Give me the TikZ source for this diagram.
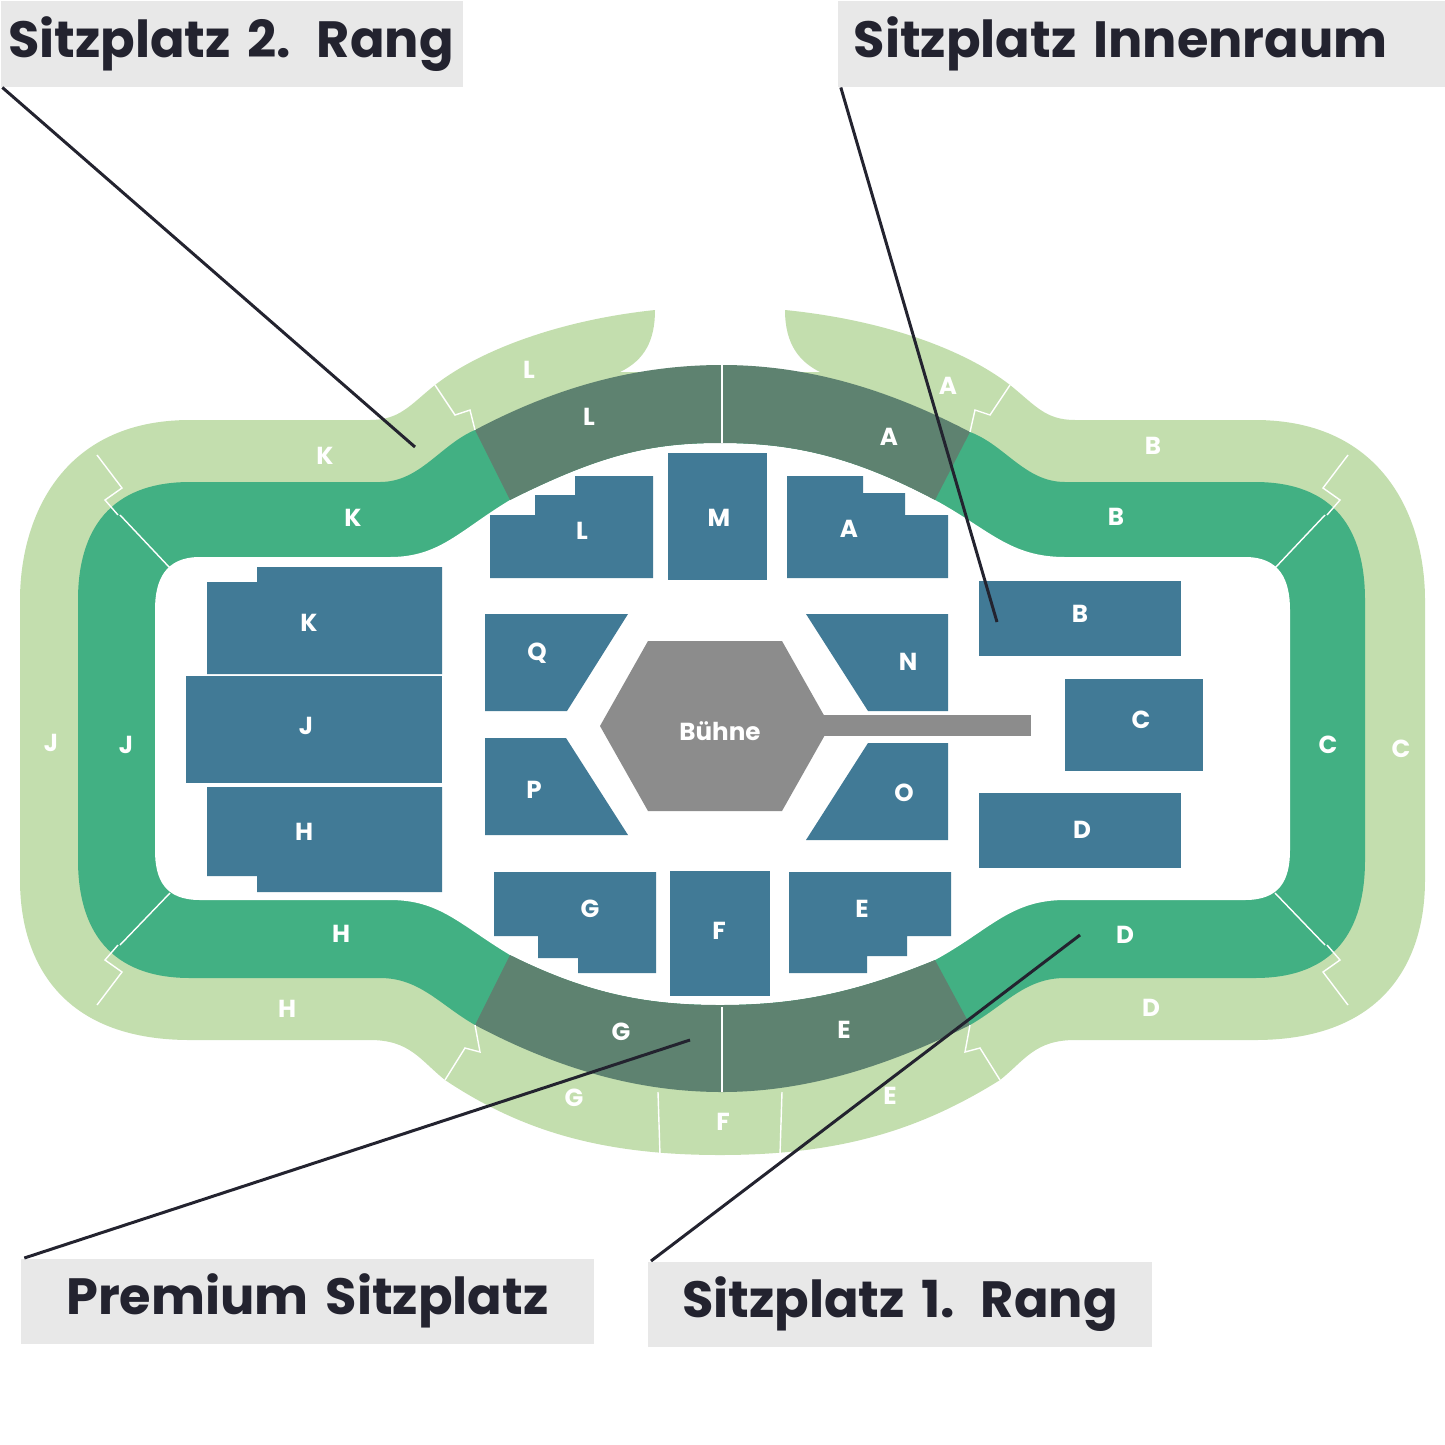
\documentclass[tikz,border=0pt]{standalone}
\usepackage{fontspec}
\setmainfont{Poppins}
\definecolor{rangtwo}{RGB}{195,222,174}
\definecolor{rangone}{RGB}{66,176,131}
\definecolor{premium}{RGB}{94,130,112}
\definecolor{inner}{RGB}{65,122,150}
\definecolor{stage}{RGB}{140,140,140}
\definecolor{callbox}{RGB}{232,232,232}
\definecolor{ink}{RGB}{35,35,47}
\tikzset{block/.style={fill=inner}}
\tikzset{sep/.style={draw=white,line width=0.4pt}}
\tikzset{seat/.style={text=white,font=\fontsize{7}{8}\selectfont\bfseries}}
\tikzset{callout/.style={fill=callbox,text=ink,anchor=north west,inner sep=0pt,font=\fontsize{14.5}{16}\selectfont\bfseries}}
\tikzset{leader/.style={draw=ink,line width=0.85pt}}

\begin{document}
\begin{tikzpicture}[x=0.01cm,y=-0.01cm]
  \useasboundingbox (0,0) rectangle (1445,1445);
  %% 2. Rang
  \fill[rangtwo] (655,310) .. controls (560,320) and (480,350) .. (435,385) .. controls (410,405) and (400,420) .. (370,420) -- (190,420) .. controls (60,420) and (20,520) .. (20,600) -- (20,880) .. controls (20,960) and (60,1040) .. (190,1040) -- (370,1040) .. controls (410,1040) and (420,1060) .. (445,1080) .. controls (520,1130) and (600,1155) .. (720,1155) .. controls (840,1155) and (920,1130) .. (1000,1080) .. controls (1025,1060) and (1035,1040) .. (1075,1040) -- (1255,1040) .. controls (1385,1040) and (1425,960) .. (1425,880) -- (1425,600) .. controls (1425,520) and (1385,420) .. (1255,420) -- (1075,420) .. controls (1045,420) and (1035,405) .. (1010,385) .. controls (965,350) and (885,320) .. (785,310) .. controls (785,345) and (800,362) .. (820,372) -- (620,372) .. controls (645,360) and (655,340) .. (655,310) -- cycle;
  %% 1. Rang
  \fill[rangone] (475,430) .. controls (440,445) and (420,482) .. (380,482) -- (190,482) .. controls (110,482) and (78,530) .. (78,600) -- (78,860) .. controls (78,930) and (110,978) .. (190,978) -- (380,978) .. controls (420,978) and (440,1005) .. (475,1025) -- (970,1025) .. controls (1005,1005) and (1025,978) .. (1065,978) -- (1255,978) .. controls (1335,978) and (1365,930) .. (1365,860) -- (1365,600) .. controls (1365,530) and (1335,482) .. (1255,482) -- (1065,482) .. controls (1025,482) and (1005,445) .. (970,432) -- cycle;
  %% Innenraum
  \fill[white] (510,500) .. controls (600,455) and (650,443) .. (720,443) .. controls (790,443) and (850,455) .. (935,500) .. controls (990,530) and (1010,557) .. (1065,557) -- (1245,557) .. controls (1280,557) and (1290,580) .. (1290,610) -- (1290,850) .. controls (1290,880) and (1280,900) .. (1245,900) -- (1065,900) .. controls (1010,900) and (990,930) .. (935,960) .. controls (850,995) and (790,1005) .. (720,1005) .. controls (650,1005) and (590,995) .. (510,955) .. controls (460,925) and (440,900) .. (390,900) -- (200,900) .. controls (165,900) and (155,880) .. (155,850) -- (155,610) .. controls (155,580) and (165,557) .. (200,557) -- (390,557) .. controls (440,557) and (460,530) .. (510,500) -- cycle;
  %% Premium
  \fill[premium] (475,430) .. controls (560,385) and (640,365) .. (722,365) .. controls (800,365) and (880,385) .. (970,432) -- (935,500) .. controls (850,455) and (790,443) .. (720,443) .. controls (650,443) and (600,455) .. (510,500) -- cycle;
  \fill[premium] (475,1025) .. controls (560,1070) and (640,1092) .. (722,1092) .. controls (800,1092) and (880,1070) .. (970,1025) -- (935,960) .. controls (850,995) and (790,1005) .. (720,1005) .. controls (650,1005) and (590,995) .. (510,955) -- cycle;
  %% Trennlinien
  \draw[sep] (722,365) -- (722,443);
  \draw[sep] (722,1007) -- (722,1092);
  \draw[sep] (120,515) -- (170,568);
  \draw[sep] (120,945) -- (170,893);
  \draw[sep] (1325,515) -- (1275,568);
  \draw[sep] (1325,945) -- (1275,893);
  \draw[sep] (97,455) -- (122,488) -- (105,500) -- (118,515);
  \draw[sep] (97,1005) -- (122,972) -- (105,960) -- (118,945);
  \draw[sep] (1348,455) -- (1323,488) -- (1340,500) -- (1327,515);
  \draw[sep] (1348,1005) -- (1323,972) -- (1340,960) -- (1327,945);
  \draw[sep] (435,385) -- (455,415) -- (470,410) -- (475,430);
  \draw[sep] (1010,385) -- (990,415) -- (975,410) -- (970,432);
  \draw[sep] (445,1080) -- (465,1048) -- (480,1052) -- (475,1025);
  \draw[sep] (1000,1080) -- (980,1048) -- (965,1052) -- (970,1025);
  \draw[sep] (658,1092) -- (660,1155);
  \draw[sep] (782,1092) -- (780,1155);
  %% Bloecke
  \fill[block] (490,515) -- (535,515) -- (535,495) -- (575,495) -- (575,476) -- (653,476) -- (653,578) -- (490,578) -- cycle;
  \fill[block] (668,453) rectangle (767,580);
  \fill[block] (787,476) -- (863,476) -- (863,493) -- (905,493) -- (905,515) -- (948,515) -- (948,578) -- (787,578) -- cycle;
  \fill[block] (207,582) -- (257,582) -- (257,567) -- (442,567) -- (442,674) -- (207,674) -- cycle;
  \fill[block] (186,676) rectangle (442,783);
  \fill[block] (207,787) -- (442,787) -- (442,892) -- (257,892) -- (257,876) -- (207,876) -- cycle;
  \fill[block] (485,614) -- (628,614) -- (567,711) -- (485,711) -- cycle;
  \fill[block] (485,738) -- (566,738) -- (628,835) -- (485,835) -- cycle;
  \fill[block] (806,614) -- (948,614) -- (948,711) -- (868,711) -- cycle;
  \fill[block] (868,743) -- (948,743) -- (948,840) -- (806,840) -- cycle;
  \fill[block] (979,581) rectangle (1181,656);
  \fill[block] (1065,679) rectangle (1203,771);
  \fill[block] (979,793) rectangle (1181,868);
  \fill[block] (494,872) -- (656,872) -- (656,973) -- (578,973) -- (578,958) -- (538,958) -- (538,936) -- (494,936) -- cycle;
  \fill[block] (670,871) rectangle (770,996);
  \fill[block] (789,872) -- (951,872) -- (951,936) -- (907,936) -- (907,956) -- (867,956) -- (867,973) -- (789,973) -- cycle;
  %% Buehne
  \fill[stage] (820,715) rectangle (1031,736);
  \fill[stage] (600,726) -- (648,641) -- (782,641) -- (830,726) -- (782,811) -- (648,811) -- cycle;
  \node[seat] (stage) at (720,731) {Bühne};
  %% Beschriftung Bloecke
  \node[seat] (iL) at (582,531) {L};
  \node[seat] (iM) at (719,518) {M};
  \node[seat] (iA) at (849,529) {A};
  \node[seat] (iK) at (309,623) {K};
  \node[seat] (iJ) at (306,726) {J};
  \node[seat] (iH) at (304,832) {H};
  \node[seat] (iQ) at (537,653) {Q};
  \node[seat] (iP) at (534,790) {P};
  \node[seat] (iN) at (908,662) {N};
  \node[seat] (iO) at (904,793) {O};
  \node[seat] (iB) at (1080,614) {B};
  \node[seat] (iC) at (1141,720) {C};
  \node[seat] (iD) at (1082,830) {D};
  \node[seat] (iG) at (590,909) {G};
  \node[seat] (iF) at (719,931) {F};
  \node[seat] (iE) at (862,909) {E};
  %% Beschriftung Raenge
  \node[seat] (pL) at (589,417) {L};
  \node[seat] (pA) at (889,437) {A};
  \node[seat] (pG) at (621,1032) {G};
  \node[seat] (pE) at (844,1030) {E};
  \node[seat] (oK) at (353,518) {K};
  \node[seat] (oB) at (1116,517) {B};
  \node[seat] (oJ) at (126,745) {J};
  \node[seat] (oC) at (1328,745) {C};
  \node[seat] (oH) at (341,934) {H};
  \node[seat] (oD) at (1125,935) {D};
  \node[seat] (tL) at (529,370) {L};
  \node[seat] (tA) at (948,386) {A};
  \node[seat] (tK) at (325,456) {K};
  \node[seat] (tB) at (1153,446) {B};
  \node[seat] (tJ) at (51,743) {J};
  \node[seat] (tC) at (1401,749) {C};
  \node[seat] (tH) at (287,1009) {H};
  \node[seat] (tD) at (1151,1008) {D};
  \node[seat] (tG) at (574,1098) {G};
  \node[seat] (tF) at (723,1122) {F};
  \node[seat] (tE) at (890,1096) {E};
  %% Legende
  \node[callout,minimum width=4.62cm,minimum height=0.86cm,text width=4.47cm,align=left] (rang2) at (0,0) {Sitzplatz 2. Rang};
  \node[callout,minimum width=6.08cm,minimum height=0.86cm,text width=6.0cm,align=left] (innen) at (837,0) {\hspace*{0.12cm}Sitzplatz Innenraum};
  \node[callout,minimum width=5.73cm,minimum height=0.85cm,text width=5.73cm,align=center] (prem) at (20,1258) {Premium Sitzplatz};
  \node[callout,minimum width=5.04cm,minimum height=0.85cm,text width=5.04cm,align=center] (rang1) at (647,1261) {Sitzplatz 1. Rang};
  \coordinate (tip2) at (415,447);
  \coordinate (tipI) at (997,622);
  \coordinate (tipP) at (690,1040);
  \coordinate (tip1) at (1080,935);
  \draw[leader] (rang2.south west) ++(2.3,0) -- (tip2);
  \draw[leader] (innen.south west) ++(3.81,0) -- (tipI);
  \draw[leader] (prem.north west) ++(4.33,0) -- (tipP);
  \draw[leader] (rang1.north west) ++(4.0,0) -- (tip1);
\end{tikzpicture}
\end{document}
